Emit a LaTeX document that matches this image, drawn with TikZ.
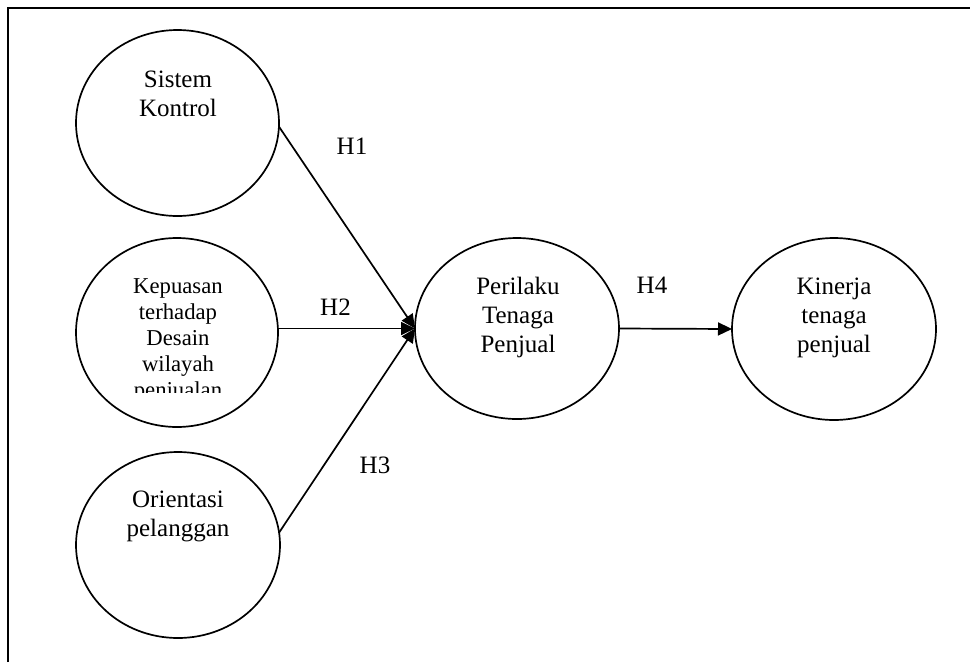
\documentclass[tikz,border=0pt]{standalone}
\usepackage{fontspec}
\setmainfont{Liberation Serif}
\usetikzlibrary{shapes.geometric,arrows.meta}

\tikzset{
  construct/.style={draw, ellipse, line width=1.7pt, inner sep=0pt, outer sep=0pt},
  caption/.style={align=center, inner sep=0pt, font=\fontsize{25}{29}\selectfont},
  smallcaption/.style={align=center, inner sep=0pt, font=\fontsize{22.7}{26}\selectfont},
  hyp/.style={inner sep=0pt, anchor=base, font=\fontsize{25}{29}\selectfont},
  path/.style={line width=1.7pt, -{Triangle[length=14pt,width=13pt]}}
}

\begin{document}
\begin{tikzpicture}[x=1pt, y=-1pt]
  \useasboundingbox (0,0) rectangle (970,662);

  % outer frame (only top and left edges fall inside the page)
  \draw[line width=1.8pt] (8,662) -- (8,8) -- (970,8);

  % constructs
  \node[construct, minimum width=203pt, minimum height=186pt] (sk) at (177.5,123) {};
  \node[construct, minimum width=202pt, minimum height=189pt] (kp) at (177,332.5) {};
  \node[construct, minimum width=204pt, minimum height=186pt] (or) at (178,545) {};
  \node[construct, minimum width=204pt, minimum height=181pt] (pt) at (517,328.5) {};
  \node[construct, minimum width=204pt, minimum height=182pt] (kn) at (834,329) {};

  % construct names
  \node[caption] (skt) at (178,94) {Sistem\\Kontrol};
  \begin{scope}
    \clip (60,230) rectangle (300,392.5);
    \node[smallcaption] (kpt) at (178,340.8) {Kepuasan\\terhadap\\Desain\\wilayah\\penjualan};
  \end{scope}
  \node[caption] (ort) at (178,516.7) {Orientasi\\pelanggan};
  \node[caption] (ptt) at (518,317.2) {Perilaku\\Tenaga\\Penjual};
  \node[caption] (knt) at (834,317.7) {Kinerja\\tenaga\\penjual};

  % hypothesised paths
  \draw[path] (sk.-2) -- (pt.west);
  \draw[path] (kp.east |- pt.west) -- (pt.west);
  \draw[path] (or.7) -- (pt.west);
  \draw[path] (pt.east) -- (kn.west);

  % path labels
  \node[hyp] (h1) at (352,154) {H1};
  \node[hyp] (h2) at (335.5,315) {H2};
  \node[hyp] (h3) at (375,473) {H3};
  \node[hyp] (h4) at (652,293) {H4};
\end{tikzpicture}
\end{document}
